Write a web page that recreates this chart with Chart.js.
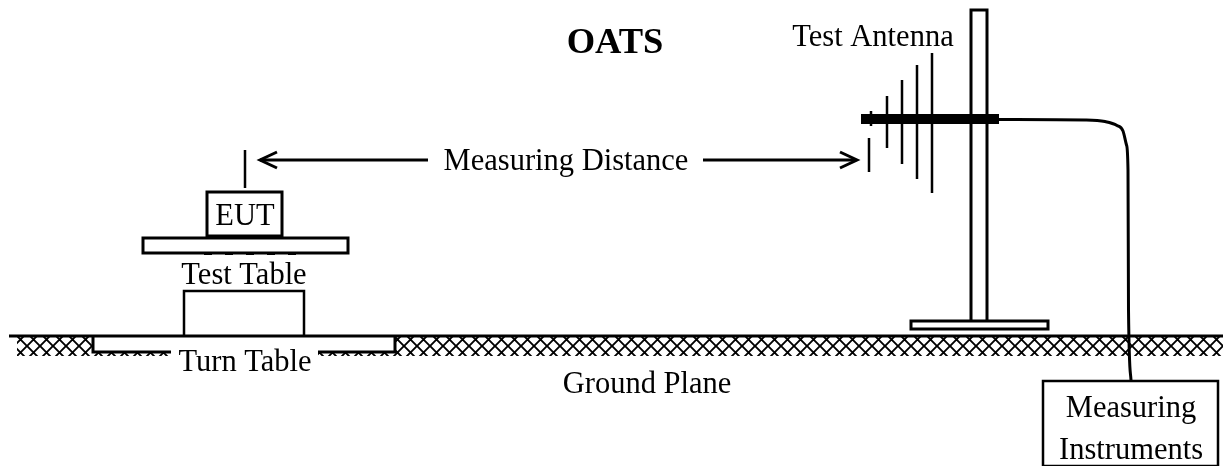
<!DOCTYPE html>
<html><head><meta charset="utf-8">
<style>html,body{margin:0;padding:0;background:#fff}canvas{display:block}</style>
<script src="https://cdn.jsdelivr.net/npm/chart.js@4"></script>
</head><body><canvas id="c" width="1223" height="466"></canvas>
<script>
const groundLine=[[9,336],[1223,336]];
const hatchBand=[[17,337],[1223,337],[1223,356],[17,356],[17,337]];
const turnTable=[[93,336],[93,352],[395,352],[395,336]];
const turnTableFill=[[93,336],[395,336],[395,352],[93,352],[93,336]];
const testStand=[[184,336],[184,291],[304,291],[304,336]];
const tableTop=[[143,238],[348,238],[348,253],[143,253],[143,238]];
const tableBumps=[[204,254],[296,254]];
const eutBox=[[207,192],[282,192],[282,236],[207,236],[207,192]];
const eutAntenna=[[245,150],[245,188]];
const arrowLeft=[[428,160],[260,160]];
const arrowLeftHead=[[277,152],[260,160],[277,168]];
const arrowRight=[[703,160],[855,160]];
const arrowRightHead=[[840,152],[857,160],[840,168]];
const mast=[[971,320],[971,10],[987,10],[987,320]];
const mastBase=[[911,321],[1048,321],[1048,329],[911,329],[911,321]];
const boom=[[861,119],[999,119]];
const elements=[
 [[871,111],[871,126]],
 [[869,138],[869,172]],
 [[887,96],[887,148]],
 [[902,80],[902,164]],
 [[917,65],[917,179]],
 [[932,53],[932,193]]
];
const cable=[[999,119.5],[1085,120],[1105,121.5],[1117,125.5],[1123,131],[1126.5,145],[1128,170],[1128.5,310],[1131,380]];
const instrumentBox=[[1043,466],[1043,381],[1218,381],[1218,466],[1043,466]];
const labels=[
 {t:'OATS',x:615,y:44,size:36.5,bold:true},
 {t:'Test Antenna',x:873,y:38,size:30.5},
 {t:'Measuring Distance',x:566,y:162,size:30.5},
 {t:'EUT',x:245,y:217,size:30.5},
 {t:'Test Table',x:244,y:276,size:30.5},
 {t:'Turn Table',x:245,y:363,size:30.5,back:[171,350,147,26]},
 {t:'Ground Plane',x:647,y:385,size:30.5},
 {t:'Measuring',x:1131,y:409,size:30.5},
 {t:'Instruments',x:1131,y:451,size:30.5}
];
const pts=a=>a.map(p=>({x:p[0],y:p[1]}));
function hatchPattern(){
  const s=13,c=document.createElement('canvas');c.width=s;c.height=s;
  const g=c.getContext('2d');g.fillStyle='#fff';g.fillRect(0,0,s,s);
  g.strokeStyle='#000';g.lineWidth=1.9;
  g.beginPath();g.moveTo(-1,-1);g.lineTo(s+1,s+1);g.moveTo(s+1,-1);g.lineTo(-1,s+1);g.stroke();
  const p=g.createPattern(c,'repeat');
  p.setTransform(new DOMMatrix().translate(1,8));
  return p;
}
const ln=(a,w=2.5,extra={})=>Object.assign({data:pts(a),showLine:true,pointRadius:0,borderColor:'#000',borderWidth:w,tension:0,fill:false,borderCapStyle:'butt',borderJoinStyle:'miter'},extra);
const boxed=(a,w=3)=>ln(a,w,{fill:'shape',backgroundColor:'#fff',borderCapStyle:'square'});
const datasets=[
 ln(boom,10),
 ln(cable,3,{cubicInterpolationMode:'monotone'}),
 ...elements.map(e=>ln(e,2.5)),
 ln(mast,3),
 ln(eutAntenna,2.5),ln(arrowLeft,3),ln(arrowLeftHead,3),ln(arrowRight,3),ln(arrowRightHead,3),
 ln(groundLine,3),
 boxed(eutBox),boxed(tableTop),
 ln(tableBumps,2,{borderDash:[8,13]}),
 boxed(mastBase),boxed(instrumentBox,2.5),
 ln(testStand,2.5),
 ln(turnTable,3),
 ln(turnTableFill,0,{fill:'shape',backgroundColor:'#fff',borderColor:'rgba(0,0,0,0)'}),
 ln(hatchBand,0,{fill:'shape',backgroundColor:hatchPattern(),borderColor:'rgba(0,0,0,0)'})
];
const textPlugin={id:'texts',afterDatasetsDraw(ch){
  const {ctx,scales:{x,y}}=ch;ctx.save();ctx.textAlign='center';ctx.textBaseline='middle';
  labels.forEach(l=>{
    if(l.back){ctx.fillStyle='#fff';ctx.fillRect(x.getPixelForValue(l.back[0]),y.getPixelForValue(l.back[1]),l.back[2],l.back[3]);}
    ctx.fillStyle='#000';ctx.font=(l.bold?'bold ':'')+l.size+'px "Liberation Serif"';
    ctx.fillText(l.t,x.getPixelForValue(l.x),y.getPixelForValue(l.y));
  });ctx.restore();}};
new Chart(document.getElementById('c'),{type:'scatter',data:{datasets},plugins:[textPlugin],options:{
 responsive:false,animation:false,layout:{padding:0},
 plugins:{legend:{display:false},tooltip:{enabled:false},title:{display:false}},
 scales:{x:{type:'linear',min:0,max:1223,display:false},y:{type:'linear',min:0,max:466,reverse:true,display:false}}
}});
</script></body></html>
